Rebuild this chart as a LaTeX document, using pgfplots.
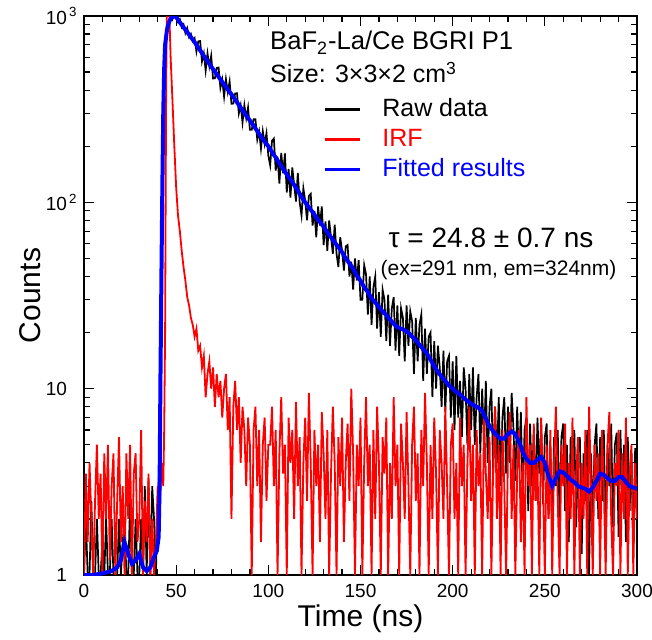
\documentclass[border=0pt]{standalone}
\usepackage{fontspec}
\setmainfont{Liberation Sans}
\usepackage{pgfplots}
\pgfplotsset{compat=1.18}
\begin{document}
\begin{tikzpicture}
\path[use as bounding box] (-42pt,-32pt) rectangle (284pt,287.5pt);
\begin{axis}[
  scale only axis, width=276.5pt, height=279.5pt,
  at={(0,0)}, anchor=south west,
  xmin=0, xmax=300, ymin=1, ymax=1000, ymode=log,
  xtick={0,50,...,300}, minor x tick num=4,
  ytick={1,10,100,1000},
  minor ytick={2,3,4,5,6,7,8,9,20,30,40,50,60,70,80,90,200,300,400,500,600,700,800,900},
  yticklabels={1, 10, 10\rlap{\textsuperscript{\,2}}, 10\rlap{\textsuperscript{\,3}}},
  tick align=inside,
  major tick length=5pt, minor tick length=3pt,
  every tick/.style={black, line width=0.6pt},
  axis line style={line width=1pt},
  tick label style={font=\fontsize{9.5}{11}\selectfont},
  yticklabel style={xshift=-5pt},
  xticklabel style={yshift=-1pt},
  /pgf/number format/assume math mode=true,
  xlabel={Time (ns)}, ylabel={Counts},
  label style={font=\fontsize{15}{18}\selectfont},
  xlabel style={at={(axis description cs:0.5,-0.078)}, anchor=center},
  ylabel style={at={(axis description cs:-0.0977,0.5)}, anchor=center},
  legend style={draw=none, fill=none, at={(0.432,0.854)}, anchor=north west,
    inner sep=0pt, font=\fontsize{12.5}{15}\selectfont, row sep=3.5pt,
    nodes={inner sep=0pt, text height=9pt, text depth=2.5pt}},
  legend cell align=left,
  legend image code/.code={\draw[#1, line width=1.5pt] (0pt,0pt) -- (17.5pt,0pt);},
  /tikz/every odd column/.append style={column sep=10.5pt},
]
\addplot[black, line width=0.85pt] coordinates {
(0,1)(1,2)(2,1)(3,1)(4,2.5)(5,1)(6,1)(7,2)(8,1)(9,1)(10,1.5)(11,1)(12,2)(13,1)(14,1)(15,2)(16,1)(17,1)(18,1)(19,2)(20,1)(21,1.5)(22,2)(23,1)(24,1)(25,2.5)(26,1)(27,1)(28,2)(29,1)(30,1)(31,2)(32,1)(33,3)(34,1)(35,3.2)(36,1)(37,3)(38,2)(39,1)(40,2.5)(41,4)(42,30)(43,250)
(44,650)(45,880)(46,900)(47,1010)(48,960)(49,1020)(50,1000)(51,930)(52,960)(53,870)(54,900)(55,810)(56,860)(57,770)(58,800)(59,735)(60,760)
(61,644)(62,731)(63,734)(64,570)(65,630)(66,509)(67,630)(68,537)(69,611)(70,462)(71,463)(72,526)(73,529)(74,411)(75,456)(76,369)(77,458)(78,391)(79,446)(80,338)
(81,339)(82,384)(83,385)(84,300)(85,332)(86,268)(87,332)(88,283)(89,323)(90,245)(91,245)(92,279)(93,279)(94,217)(95,240)(96,194)(97,241)(98,206)(99,235)(100,178)
(101,158)(102,214)(103,220)(104,148)(105,176)(106,126)(107,184)(108,143)(109,183)(110,113)(111,151)(112,106)(113,154)(114,124)(115,101)(116,144)(117,100)(118,85)(119,119)(120,102)
(121,80)(122,108)(123,111)(124,75)(125,90)(126,65)(127,95)(128,75)(129,95)(130,59)(131,79)(132,55)(133,80)(134,65)(135,53)(136,76)(137,53)(138,45)(139,65)(140,55)
(141,43)(142,58)(143,59)(144,40)(145,48)(146,34)(147,50)(148,38)(149,49)(150,30)
(151,30)(152,46)(153,41)(154,25)(155,40)(156,22)(157,35)(158,40)(159,21)(160,33)(161,19)(162,34)(163,30)(164,18)(165,32)(166,17)(167,27)(168,31)(169,16)(170,28)
(171,15)(172,27)(173,24)(174,14)(175,28)(176,17)(177,26)(178,23)(179,12)(180,24)(181,14)(182,22)(183,25)(184,11)(185,21)(186,12)(187,19)(188,20)(189,9)(190,18)
(191,10)(192,17)(193,13)(194,8)(195,16)(196,7.5)(197,14)(198,15)(199,7)(200,14)
(201,6)(202,15)(203,7)(204,11)(205,5.5)(206,13)(207,10)(208,5)(209,12)(210,6)(211,13)(212,5)(213,9)(214,12)(215,4.5)(216,10)(217,5)(218,11)(219,4)(220,8)
(221,10)(222,3.5)(223,8)(224,4)(225,9)(226,3)(227,7)(228,9)(229,3.5)(230,8)(231,4)(232,9.5)(233,6)(234,3.2)(235,8)(236,4)(237,7.5)(238,2.5)(239,6)(240,7)
(241,2.2)(242,6.5)(243,3)(244,6)(245,2.5)(246,7)(247,3.5)(248,6.5)(249,2.4)(250,5.5)(251,6.5)(252,2)(253,5)(254,1.6)(255,5.5)(256,3)(257,6)(258,2)(259,5.5)(260,6.5)
(261,2.2)(262,5)(263,1.5)(264,5.5)(265,2.8)(266,6)(267,1.8)(268,4.5)(269,5.5)(270,1.3)(271,4.5)(272,2.5)(273,6)(274,1)(275,4.5)(276,2)(277,5)(278,6.5)(279,2)(280,5.5)
(281,2.5)(282,6)(283,1.5)(284,5)(285,3)(286,6.5)(287,1.8)(288,5)(289,5.8)(290,1.6)(291,6)(292,2.5)(293,5)(294,1.5)(295,5.5)(296,2.2)(297,4.5)(298,1.4)(299,4.8)(300,3)
};
\addlegendentry{Raw data}
\addplot[red, line width=0.9pt] coordinates {
(0,1)(1,3.5)(2,1.5)(3,4)(4,2)(5,1)(6,2.5)(7,5)(8,2)(9,3.5)(10,1)(11,4.5)(12,2)(13,5)(14,1.2)(15,3)(16,4.5)(17,1)(18,2.5)(19,5.5)(20,1.5)(21,3)(22,1)(23,4.5)(24,2)(25,5)(26,1)(27,3.5)(28,4.5)(29,1.5)(30,2)(31,6)(32,1)(33,2.5)(34,1.5)(35,3.5)(36,1)(37,2)(38,1)(39,1.5)(40,3)(41,2)(42,4)(43,3)(43.5,6)
(44,20)(44.5,300)(45,1500)(45.5,2000)(46,1300)(47,600)(48,350)(49,200)(50,120)(51,85)(52,70)(53,55)(54,45)(55,38)(56,31)(57,28)(58,24)(59,22)(60,19)
(61,21)(62,16)(63,17)(64,13)(65,15)(66,9)(67,12)(68,14)(69,10)(70,13)(71,8)(72,12)(73,9)(74,11)(75,7)(76,10)(77,12)(78,6)(79,9)(80,2)
(81,8)(82,11)(83,6)(84,9)(85,4)(86,8)(87,6)(88,3)(89,7)(90,5)(91,1)(92,6)(93,8)(94,3)(95,6)(96,1.5)(97,5)(98,7)(99,2.5)(100,5)
(101,5)(102,8)(103,3)(104,6)(105,1)(106,4.5)(107,9)(108,3.5)(109,5)(110,1)(111,7)(112,4)(113,6)(114,2)(115,8.5)(116,3)(117,5.5)(118,1)(119,4)(120,7)
(121,2.5)(122,9.5)(123,4)(124,1)(125,6)(126,3)(127,5)(128,1.5)(129,7.5)(130,4.5)(131,2)(132,6)(133,1)(134,3.5)(135,8)(136,4)(137,1)(138,5.5)(139,3)(140,7)
(141,1.5)(142,4)(143,6.5)(144,2.5)(145,10)(146,4.5)(147,1)(148,5)(149,3)(150,7)(151,1)(152,4)(153,9)(154,3)(155,5)(156,1)(157,6)(158,2)(159,8)(160,4)
(161,1)(162,5.5)(163,3.5)(164,7)(165,1)(166,4)(167,2)(168,9)(169,3)(170,5)(171,1)(172,6.5)(173,4)(174,2)(175,7.5)(176,3)(177,1)(178,5)(179,8)(180,2.5)
(181,4.5)(182,1)(183,6)(184,3)(185,9.5)(186,4)(187,1)(188,5)(189,2)(190,7)(191,3.5)(192,1)(193,6)(194,4)(195,2)(196,8)(197,3)(198,1)(199,5)(200,6.5)
(201,2)(202,4)(203,1)(204,7)(205,3)(206,5)(207,1)(208,4)(209,8)(210,2.5)(211,5)(212,1)(213,6)(214,3)(215,4.5)(216,1)(217,7)(218,3.5)(219,2)(220,5.5)
(221,1)(222,4)(223,8)(224,2)(225,5)(226,1)(227,6)(228,3)(229,1)(230,4.5)(231,7.5)(232,2)(233,5)(234,1)(235,3.5)(236,6)(237,1.5)(238,4)(239,1)(240,9)
(241,3)(242,5)(243,1)(244,6.5)(245,2.5)(246,4)(247,1)(248,7)(249,3)(250,1)(251,5)(252,2)(253,6)(254,1)(255,4)(256,8)(257,2.5)(258,1)(259,5)(260,3)
(261,6.5)(262,1)(263,4)(264,2)(265,7)(266,1)(267,3.5)(268,5.5)(269,1)(270,4)(271,2)(272,6)(273,1)(274,8)(275,3)(276,1)(277,5)(278,2.5)(279,4.5)(280,1)
(281,6)(282,3)(283,1)(284,5)(285,7.5)(286,2)(287,1)(288,4)(289,3)(290,6)(291,1)(292,4.5)(293,2)(294,7)(295,1)(296,3.5)(297,5)(298,1)(299,4)(300,2)
};
\addlegendentry{\textcolor{red}{IRF}}
\addplot[blue, line width=2pt] coordinates {
(0,1.0)(5,1.0)(10,1.02)(15,1.05)(18,1.1)(20,1.2)(22,1.5)(24,1.3)(26,1.15)(28,1.2)(30,1.3)(32,1.1)(34,1.05)(36,1.1)(38,1.25)(39.5,1.35)(40.5,1.6)
(41,3)(41.5,12)(42,40)(42.5,120)(43,300)(43.5,520)(44,700)(45,840)(46,920)(47,970)(48,995)(49,1000)(50,985)
(52,925)(54,870)(56,820)(58,770)(60,724)(62,677)(64,633)(66,592)(68,554)(70,519)(72,487)(74,457)(76,429)(78,403)(80,380)
(82,356)(84,333)(86,312)(88,292)(90,275)(92,258)(94,241)(96,226)(98,212)(100,200)(102,186)(104,174)(106,162)(108,151)(110,141)
(112,133)(114,124)(116,116)(118,107)(120,100)(122,94)(124,88.6)(126,83)(128,78.5)(130,74)(132,69)(134,65)(136,61)(138,57.5)(140,54)
(142,50)(144,47)(146,44)(148,40.5)(150,38)(152,35)(154,33)(156,30.5)(158,29)(160,27.5)(162,26)(164,24.8)(166,23.5)(168,22.3)(170,21.4)
(172,21)(174,20.6)(176,20)(178,19)(180,18.2)(182,17.2)(184,16.3)(186,15.5)(188,14.3)(190,13.2)(192,12.3)(194,11.6)(196,11)(198,10.4)(200,10)
(202,9.6)(204,9.3)(206,8.9)(208,8.6)(210,8.3)(212,8.1)(214,7.9)(216,7.6)(218,6.9)(220,6.3)(222,5.9)(224,5.6)(226,5.4)(228,5.4)(230,5.7)
(232,5.9)(234,5.7)(236,5.2)(238,4.6)(240,4.2)(242,4.0)(244,4.0)(246,4.15)(248,4.3)(250,4.0)(252,3.4)(254,3.0)(256,3.3)(258,3.6)(260,3.55)
(262,3.4)(264,3.25)(266,3.15)(268,3.0)(270,2.95)(272,2.9)(274,2.8)(276,2.95)(278,3.2)(280,3.5)(282,3.45)(284,3.3)(286,3.2)(288,3.2)(290,3.35)
(292,3.35)(294,3.15)(296,3.0)(298,2.95)(300,2.9)
};
\addlegendentry{\textcolor{blue}{Fitted results}}
\node[anchor=west, inner sep=0pt, font=\fontsize{12.8}{15}\selectfont] at (rel axis cs:0.336,0.952) {BaF\textsubscript{2}-La/Ce BGRI P1};
\node[anchor=west, inner sep=0pt, font=\fontsize{12.5}{15}\selectfont] at (rel axis cs:0.336,0.899) {Size: 3×3×2 cm\textsuperscript{3}};
\node[anchor=center, inner sep=0pt, font=\fontsize{14}{16}\selectfont] at (rel axis cs:0.736,0.603) {τ = 24.8 ± 0.7 ns};
\node[anchor=center, inner sep=0pt, font=\fontsize{10.5}{12}\selectfont] at (rel axis cs:0.7496,0.5456) {(ex=291 nm, em=324nm)};
\end{axis}
\end{tikzpicture}
\end{document}
